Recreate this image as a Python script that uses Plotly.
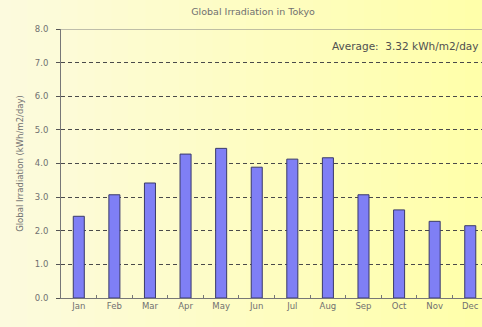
import plotly.graph_objects as go

months = ["Jan", "Feb", "Mar", "Apr", "May", "Jun", "Jul", "Aug", "Sep", "Oct", "Nov", "Dec"]
irradiation = [2.43, 3.07, 3.42, 4.28, 4.45, 3.89, 4.13, 4.17, 3.07, 2.62, 2.28, 2.15]
y_ticks = [0, 1, 2, 3, 4, 5, 6, 7, 8]
y_tick_labels = ["0.0", "1.0", "2.0", "3.0", "4.0", "5.0", "6.0", "7.0", "8.0"]
average_text = "Average:  3.32 kWh/m2/day"

font_family = "DejaVu Sans, Verdana, sans-serif"
text_color = "#707070"

fig = go.Figure()
fig.add_trace(go.Bar(
    x=months,
    y=irradiation,
    width=0.31,
    marker=dict(color="#7F7FF5", line=dict(color="#3A3A6A", width=1)),
))

# soft left-to-right yellow wash behind the plot
shapes = []
steps = 30
for i in range(steps):
    t = i / (steps - 1)
    r = 252 + round(3 * t)
    g = 250 + round(5 * t)
    b = round(224 - 54 * t)
    shapes.append(dict(
        type="rect", xref="paper", yref="paper", layer="below",
        x0=-0.2 + 1.2 * i / steps, x1=-0.2 + 1.2 * (i + 1) / steps + 0.002,
        y0=-0.2, y1=1.2, line=dict(width=0),
        fillcolor=f"rgb({r},{g},{b})",
    ))
# solid top border at the top of the value axis
shapes.append(dict(type="line", xref="paper", yref="y", x0=0, x1=1, y0=8, y1=8,
                   line=dict(color="#808080", width=1)))

fig.update_layout(
    width=482, height=327,
    margin=dict(l=61, r=0, t=29, b=29),
    paper_bgcolor="#FCFADE",
    plot_bgcolor="rgba(0,0,0,0)",
    showlegend=False,
    shapes=shapes,
    font=dict(family=font_family, size=8, color=text_color),
    title=dict(text="Global Irradiation in Tokyo", x=0.525, xanchor="center",
               y=0.963, yanchor="middle", font=dict(size=9.5, color=text_color)),
    xaxis=dict(
        range=[-0.5, 11.33],
        showline=True, linecolor="#777777", linewidth=1,
        ticks="inside", tickson="boundaries", ticklen=3, tickcolor="#777777",
        showgrid=False,
        tickfont=dict(size=8.5, color=text_color),
    ),
    yaxis=dict(
        range=[0, 8],
        tickvals=y_ticks, ticktext=y_tick_labels,
        showline=True, linecolor="#777777", linewidth=1,
        ticks="outside", ticklen=4, tickcolor="#555555",
        ticklabelstandoff=6,
        showgrid=True, gridcolor="#4A4A4A", griddash="4px,3px", gridwidth=1.4,
        zeroline=False,
        tickfont=dict(size=8.5, color=text_color),
        title=dict(text="Global Irradiation (kWh/m2/day)", standoff=9,
                   font=dict(size=8.5, color=text_color)),
    ),
    annotations=[dict(
        text=average_text, xref="paper", yref="paper", x=0.995, y=0.935,
        xanchor="right", yanchor="middle", showarrow=False,
        font=dict(size=10.5, color="#505050"),
    )],
)

fig.write_html("out.html")
